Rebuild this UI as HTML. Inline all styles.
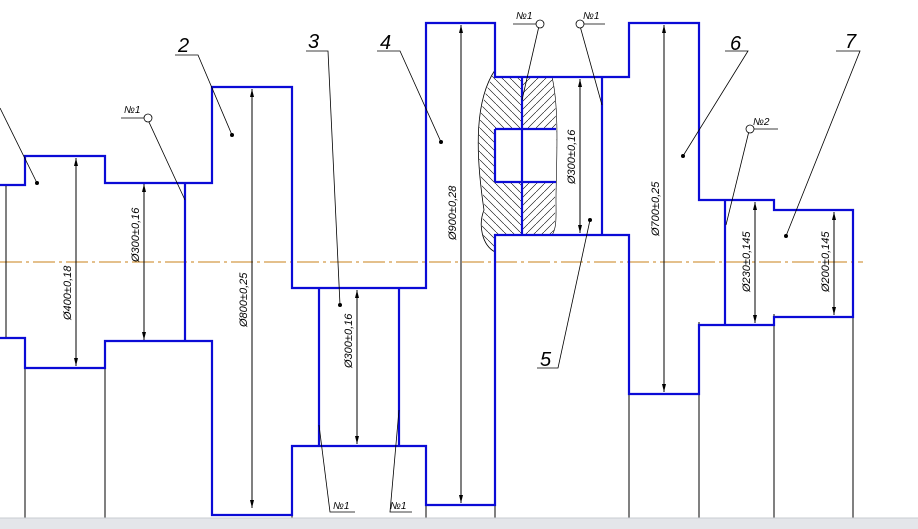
<!DOCTYPE html><html><head><style>body{margin:0;background:#fff}svg{display:block}text{font-family:"Liberation Sans",sans-serif;font-style:italic}</style></head><body>
<svg width="918" height="529" viewBox="0 0 918 529" xmlns="http://www.w3.org/2000/svg">
<defs><pattern id="h1" width="8" height="8" patternUnits="userSpaceOnUse"><path d="M0,0 L8,8" stroke="#000" stroke-width="0.6"/></pattern>
<pattern id="h2" width="8" height="8" patternUnits="userSpaceOnUse"><path d="M8,0 L0,8" stroke="#000" stroke-width="0.6"/></pattern></defs>
<rect width="918" height="529" fill="#fff"/>
<path d="M495,77 L522,77 L522,235 L495,235 L495,250 C480,240 480,225 485,210 C480,170 470,120 495,70 Z" fill="url(#h1)" stroke="none"/>
<path d="M522,77 L552,77 C558,110 556,150 555,200 C555,215 556,228 552,235 L522,235 Z" fill="url(#h2)"/>
<path d="M495,70 C475,100 475,150 484,210 C478,225 482,245 495,252" fill="none" stroke="#000" stroke-width="0.8"/>
<path d="M552,77 C560,110 556,170 556,200 C556,215 557,228 552,235" fill="none" stroke="#000" stroke-width="0.6"/>
<rect x="495" y="129" width="61" height="53" fill="#fff"/>
<line x1="0" y1="262" x2="863" y2="262" stroke="#c8801a" stroke-width="1" stroke-dasharray="22,4,3,4"/>
<g stroke="#000" stroke-width="1" fill="none">
<path d="M25,368V518M105,368V518M292,446V518M426,446V518M495,235V518M629,394V518M699,322V518M774,314V518M853,314V518"/>
</g>
<g stroke="#0b0bd6" stroke-width="2.2" fill="none">
<path d="M0,185H25V156H105V183H212V87H292V288H426V23H495V77H629V23H699V200H774V210H853V317H774V325H699V394H629V235H495V505H426V446H292V515H212V341H105V368H25V338H0"/>
<path d="M185,183V341M319,288V446M399,288V446M602,77V235M522,77V235M495,129H556M495,182H556M495,129V182M725,200V325"/>
</g>
<g stroke="#000" stroke-width="1">
<path d="M6,186V337M76,158V366M144,184V340M252,89V508M357,290V444M461,25V503M580,79V233M664,25V392M755,202V323M834,212V315"/>
</g>
<g fill="#000">
<path d="M76,158l-2,8h4zM76,366l-2,-8h4zM144,184l-2,8h4zM144,340l-2,-8h4zM252,89l-2,8h4zM252,508l-2,-8h4zM357,290l-2,8h4zM357,444l-2,-8h4zM461,25l-2,8h4zM461,503l-2,-8h4zM580,79l-2,8h4zM580,233l-2,-8h4zM664,25l-2,8h4zM664,392l-2,-8h4zM755,202l-2,8h4zM755,323l-2,-8h4zM834,212l-2,8h4zM834,315l-2,-8h4z"/>
</g>
<g font-size="11" fill="#000">
<text transform="translate(71,320) rotate(-90)">Ø400±0,18</text>
<text transform="translate(139,262) rotate(-90)">Ø300±0,16</text>
<text transform="translate(247,327) rotate(-90)">Ø800±0,25</text>
<text transform="translate(352,368) rotate(-90)">Ø300±0,16</text>
<text transform="translate(456,240) rotate(-90)">Ø900±0,28</text>
<text transform="translate(575,184) rotate(-90)">Ø300±0,16</text>
<text transform="translate(659,236) rotate(-90)">Ø700±0,25</text>
<text transform="translate(750,292) rotate(-90)">Ø230±0,145</text>
<text transform="translate(829,292) rotate(-90)">Ø200±0,145</text>
</g>
<g stroke="#000" stroke-width="0.8" fill="none">
<path d="M0,108L37,183"/>
<path d="M175,55H198L232,135"/>
<path d="M306,51H328L340,305"/>
<path d="M377,51H400L441,142"/>
<path d="M537,368H558L590,220"/>
<path d="M725,51H748L683,156"/>
<path d="M836,51H860L786,236"/>
<path d="M121,118H145M148,120L185,200"/>
<path d="M513,24H537M539,26L522,100"/>
<path d="M583,24H605M580,26L602,105"/>
<path d="M753,129H778M749,131L726,225"/>
<path d="M319,425L330,512H355M399,410L390,512H412"/>
</g>
<g fill="#fff" stroke="#000" stroke-width="0.8">
<circle cx="148" cy="118" r="4"/><circle cx="540" cy="24" r="4"/><circle cx="580" cy="24" r="4"/><circle cx="750" cy="129" r="4"/>
</g>
<g fill="#000"><circle cx="37" cy="183" r="2"/><circle cx="232" cy="135" r="2"/><circle cx="340" cy="305" r="2"/><circle cx="441" cy="142" r="2"/><circle cx="590" cy="220" r="2"/><circle cx="683" cy="156" r="2"/><circle cx="786" cy="236" r="2"/></g>
<g font-size="20" fill="#000">
<text x="178" y="52">2</text><text x="308" y="48">3</text><text x="380" y="49">4</text><text x="540" y="366">5</text><text x="730" y="50">6</text><text x="845" y="48">7</text>
</g>
<g font-size="10" fill="#000">
<text x="124" y="113">№1</text><text x="516" y="19">№1</text><text x="583" y="19">№1</text><text x="753" y="125">№2</text><text x="333" y="509">№1</text><text x="390" y="509">№1</text>
</g>
<rect x="0" y="518" width="918" height="11" fill="#e4e6ea"/>
<line x1="0" y1="518" x2="918" y2="518" stroke="#c8ccd2"/>
</svg></body></html>
